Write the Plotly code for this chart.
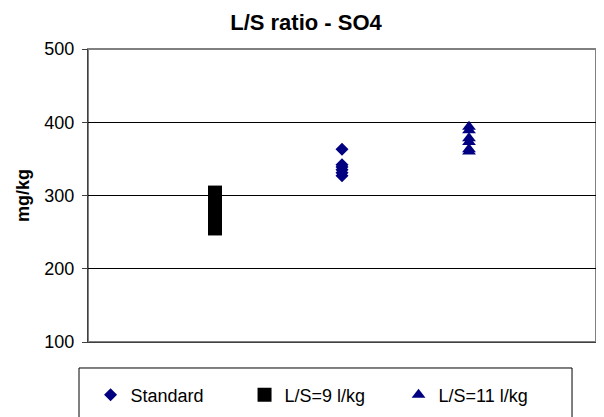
import plotly.graph_objects as go

# x-Position je Serie (Kategorienindex), Achse läuft 0..4
standard_x = [2] * 6
standard_y = [363, 342, 339, 335, 331, 327]
ls9_x = [1] * 7
ls9_y = [304, 297, 288, 280, 271, 262, 255]
ls11_x = [3] * 6
ls11_y = [394, 389, 378, 373, 363, 360]

NAVY = "#000080"

fig = go.Figure()
fig.add_trace(go.Scatter(x=standard_x, y=standard_y, mode="markers", name="Standard",
                         marker=dict(symbol="diamond", size=10, color=NAVY)))
fig.add_trace(go.Scatter(x=ls9_x, y=ls9_y, mode="markers", name="L/S=9 l/kg",
                         marker=dict(symbol="square", size=14, color="black")))
fig.add_trace(go.Scatter(x=ls11_x, y=ls11_y, mode="markers", name="L/S=11 l/kg",
                         marker=dict(symbol="triangle-up", size=12, color=NAVY)))

# Rahmen der Legende (unten abgeschnitten wie im Original)
fig.add_shape(type="rect", xref="paper", yref="paper",
              x0=-0.0177, x1=0.9528, y0=-0.30, y1=-0.0887,
              line=dict(color="black", width=1), fillcolor="rgba(0,0,0,0)")
# Plotbereich-Rahmen oben/rechts grau
fig.add_shape(type="rect", xref="paper", yref="paper", x0=0, x1=1, y0=0, y1=1,
              line=dict(color="#808080", width=2), layer="below")

# Seite hat 8px Body-Rand -> Figur entsprechend kleiner
fig.update_layout(
    width=596, height=409,
    margin=dict(l=80, r=8, t=41, b=75, autoexpand=False),
    paper_bgcolor="white", plot_bgcolor="white",
    font=dict(family="Liberation Sans, Arial", color="black", size=18),
    title=dict(text="<b>L/S ratio - SO4</b>", x=0.5, xanchor="center",
               y=0.9658, yanchor="middle", font=dict(size=22)),
    xaxis=dict(range=[0, 4], showticklabels=False, ticks="", showgrid=False,
               zeroline=False, showline=True, linecolor="#404040", linewidth=1),
    yaxis=dict(range=[100, 500], dtick=100, ticks="outside", ticklen=5,
               tickcolor="#404040", showgrid=True, gridcolor="black", gridwidth=1,
               zeroline=False, showline=True, linecolor="#404040", linewidth=1,
               tickfont=dict(size=18), automargin=False, ticklabelstandoff=4,
               title=dict(text="<b>mg/kg</b>", font=dict(size=18), standoff=10)),
    showlegend=True,
    legend=dict(orientation="h", x=0.005, xanchor="left", y=-0.181, yanchor="middle",
                entrywidth=109, entrywidthmode="pixels", bgcolor="rgba(0,0,0,0)",
                font=dict(size=18)),
)

fig.write_html("out.html")
